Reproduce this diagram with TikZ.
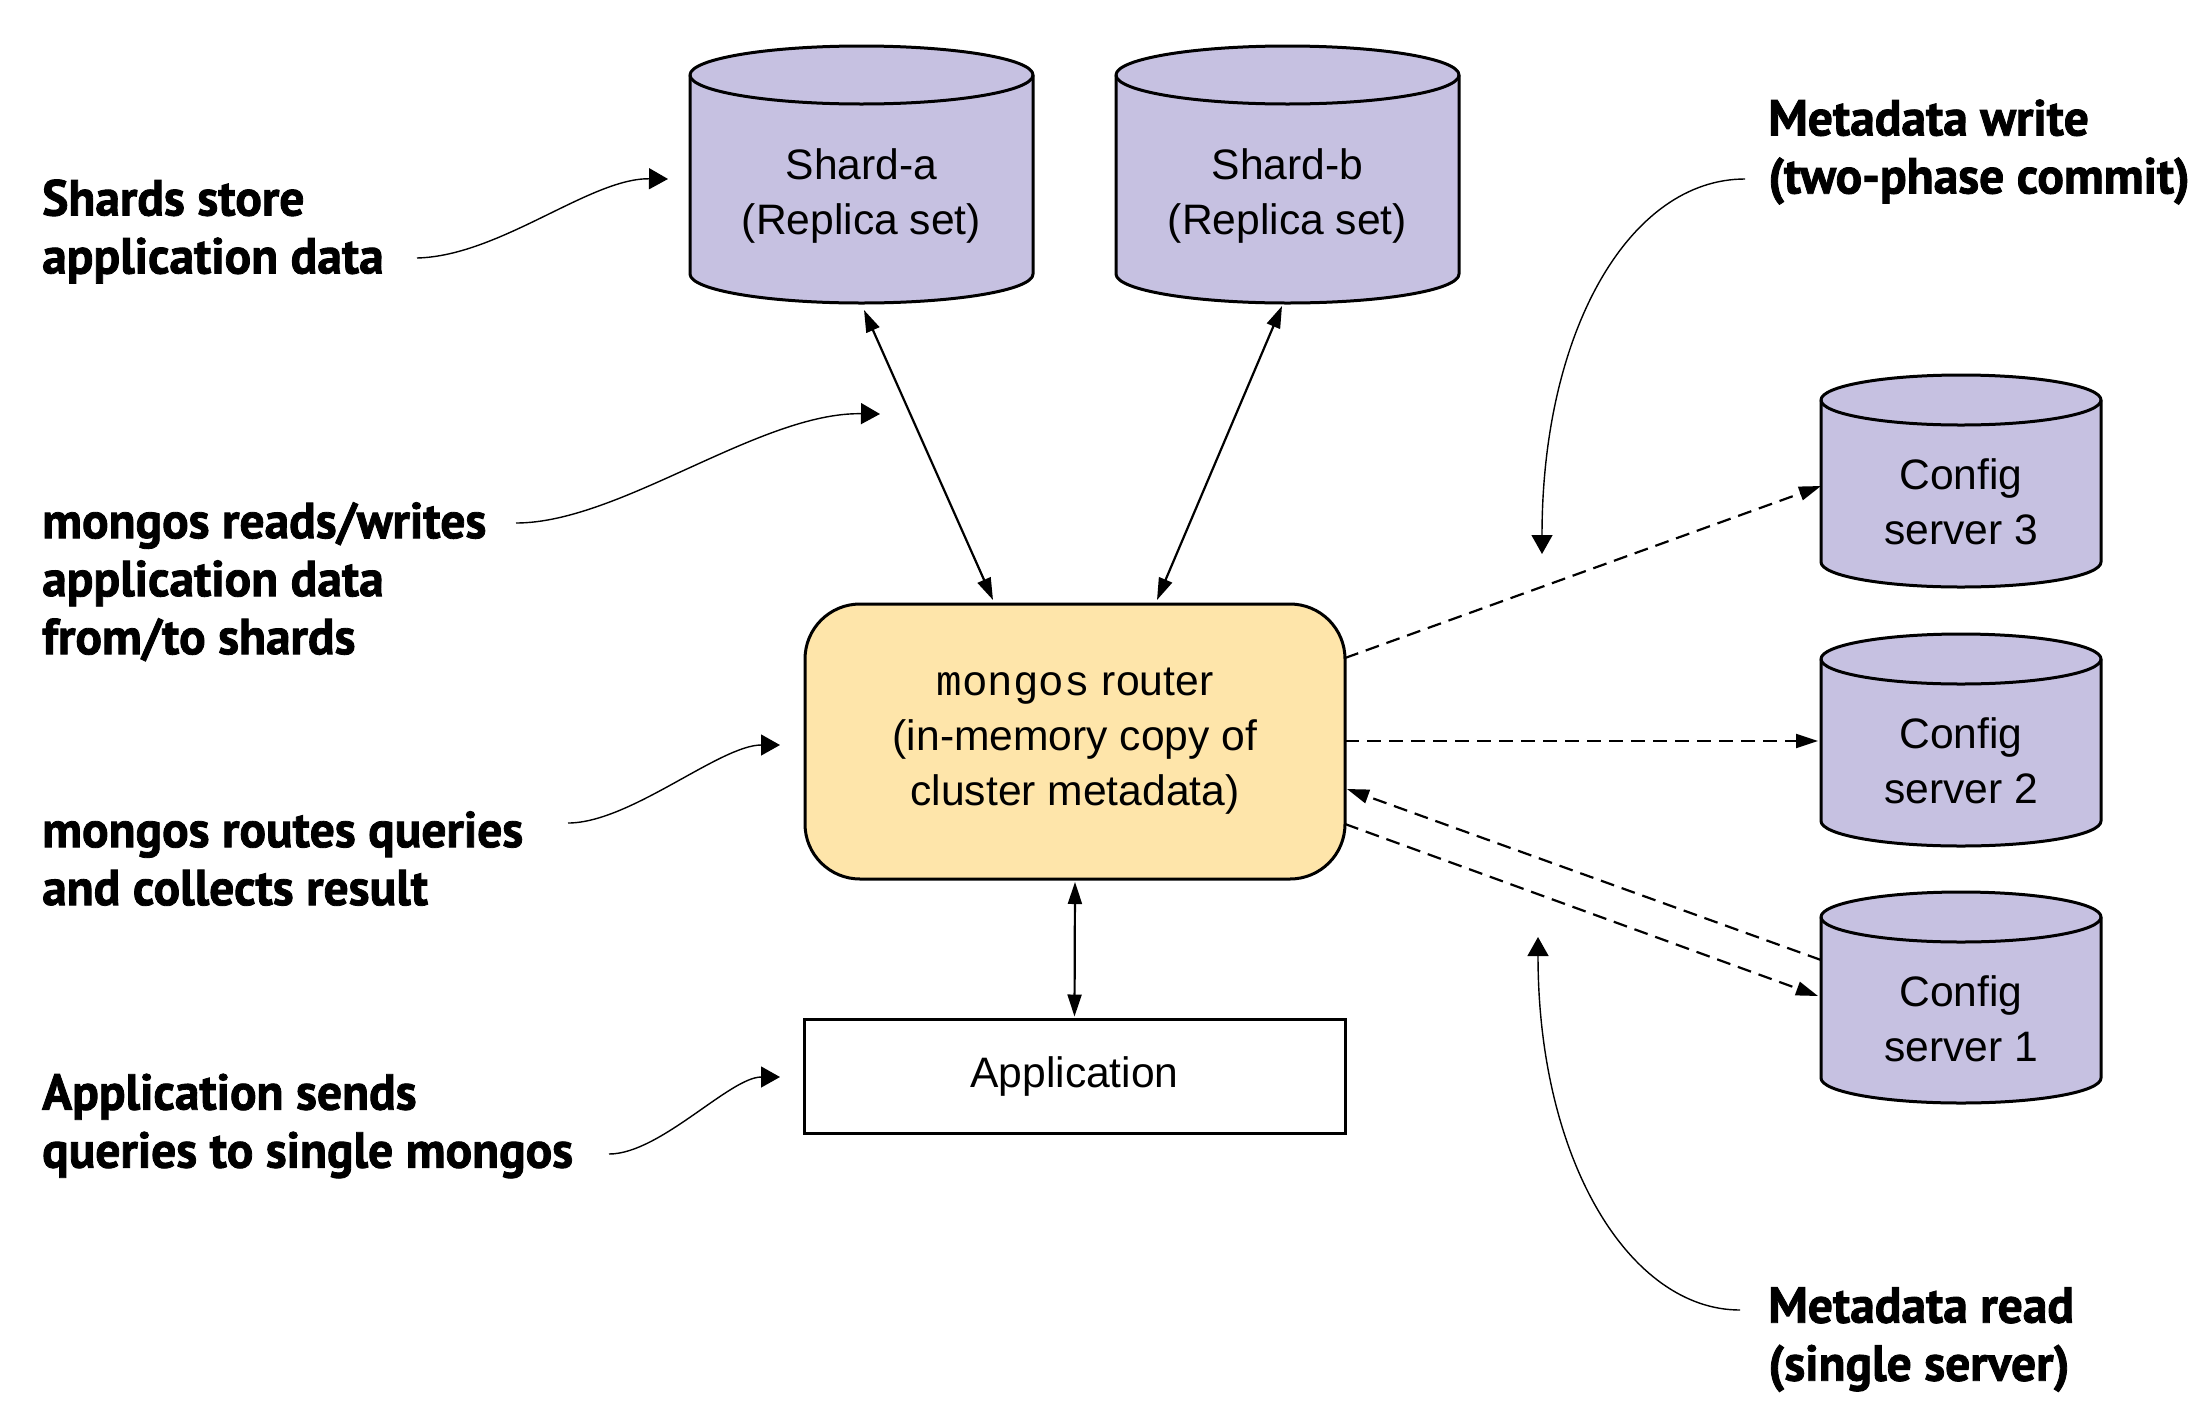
\documentclass[tikz,border=0pt]{standalone}
\usepackage{fontspec}
\setmainfont{Liberation Sans}
\setmonofont{Liberation Mono}
\newfontfamily\annfont[FakeBold=1.6,FakeStretch=0.98]{PT Sans}
\usetikzlibrary{arrows.meta,calc}
\definecolor{cylfill}{RGB}{198,193,225}
\definecolor{routerfill}{RGB}{254,229,170}
\newcommand\dbcyl[7]{%
  \fill[cylfill] ({#2-#5},{-#3-#6}) -- ({#2-#5},{-#4+#6}) arc[start angle=180,end angle=360,x radius=#5,y radius=#6] -- ({#2+#5},{-#3-#6}) arc[start angle=0,end angle=180,x radius=#5,y radius=#6] -- cycle;
  \draw[cylline] ({#2-#5},{-#3-#6}) -- ({#2-#5},{-#4+#6}) arc[start angle=180,end angle=360,x radius=#5,y radius=#6] -- ({#2+#5},{-#3-#6}) arc[start angle=0,end angle=180,x radius=#5,y radius=#6] -- cycle;
  \draw[cylline] ({#2-#5},{-#3-#6}) arc[start angle=180,end angle=360,x radius=#5,y radius=#6];
  \node[draw=none,inner sep=0pt,outer sep=0pt,minimum width=2*#5pt,minimum height=(#4-#3)*1pt] (#1) at (#2,{-(#3+#4)/2}) {};
  \node[nodetext] (#1-text) at ($(#1.center)+(0,-21)$) {#7};
}
\begin{document}
\begin{tikzpicture}[x=1pt,y=1pt,
  cylline/.style={draw=black,line width=3pt,line join=round},
  nodetext/.style={font=\fontsize{42.6}{55}\selectfont,align=center,inner sep=0pt},
  tipc/.tip={Triangle[length=22pt,width=14pt]},
  conn/.style={line width=2.2pt,tipc-tipc},
  dconn/.style={line width=2.2pt,dash pattern=on 14pt off 8pt,-tipc},
  ann/.style={line width=1.4pt,-{Triangle[length=19pt,width=21pt]}},
  anntext/.style={font={\annfont\bfseries\fontsize{50.5}{58}\selectfont},align=left,anchor=west,inner sep=0pt},
  boxline/.style={draw=black,line width=3pt,outer sep=0pt}]
\useasboundingbox (0,0) rectangle (2209,-1414);

% cylinders
\dbcyl{shardA}{861.5}{46}{303}{171.5}{29}{Shard-a\\(Replica set)}
\dbcyl{shardB}{1287.5}{46}{303}{171.5}{29}{Shard-b\\(Replica set)}
\dbcyl{cfgC}{1961}{375}{587}{140}{25}{Config\\server 3}
\dbcyl{cfgB}{1961}{634}{846}{140}{25}{Config\\server 2}
\dbcyl{cfgA}{1961}{892}{1103}{140}{25}{Config\\server 1}

% router and application
\node[boxline,fill=routerfill,rounded corners=55pt,minimum width=540pt,minimum height=275pt,nodetext] (router) at (1075,-741.5) {\texttt{mongos} router\\(in-memory copy of\\cluster metadata)};
\node[boxline,minimum width=541pt,minimum height=114pt,nodetext] (app) at (1074.5,-1076.5) {Application};

% solid connectors
\draw[conn] ([xshift=2.5pt,yshift=-7pt]shardA.south) -- ([xshift=-82pt,yshift=4pt]router.north);
\draw[conn] ([xshift=-5.5pt,yshift=-3pt]shardB.south) -- ([xshift=82pt,yshift=4pt]router.north);
\draw[conn] ([yshift=-3pt]router.south) -- ([yshift=3pt]app.north);

% dashed connectors
\draw[dconn] ([yshift=83.5pt]router.east) -- ([yshift=-5pt]cfgC.west);
\draw[dconn] ([yshift=0.5pt]router.east) -- ([xshift=-3pt,yshift=-1pt]cfgB.west);
\draw[dconn] ([yshift=37.5pt]cfgA.west) -- ([xshift=2pt,yshift=-47.5pt]router.east);
\draw[dconn] ([yshift=-82.5pt]router.east) -- ([xshift=-3pt,yshift=1.5pt]cfgA.west);

% annotations
\node[anntext] (t1) at (42,-231.5) {Shards store\\application data};
\node[anntext] (t2) at (42,-581.7) {mongos reads/writes\\application data\\from/to shards};
\node[anntext] (t3) at (42,-858.5) {mongos routes queries\\and collects result};
\node[anntext] (t4) at (42,-1126) {Application sends\\queries to single mongos};
\node[anntext] (t5) at (1768,-152) {Metadata write\\(two-phase commit)};
\node[anntext] (t6) at (1768,-1339.6) {Metadata read\\(single server)};

\coordinate (s1) at (417,-258);  \coordinate (e1) at (668,-179);
\coordinate (s2) at (516,-523);  \coordinate (e2) at (880,-414);
\coordinate (s3) at (568,-823);  \coordinate (e3) at (780,-745);
\coordinate (s4) at (609,-1154); \coordinate (e4) at (780,-1077);
\coordinate (s5) at (1745,-179); \coordinate (e5) at (1542,-554);
\coordinate (s6) at (1740,-1310); \coordinate (e6) at (1538,-937);

\draw[ann] (s1) .. controls (500,-256) and (590,-178) .. (e1);
\draw[ann] (s2) .. controls (620,-523) and (760,-412) .. (e2);
\draw[ann] (s3) .. controls (630,-823) and (720,-745) .. (e3);
\draw[ann] (s4) .. controls (660,-1154) and (730,-1077) .. (e4);
\draw[ann] (s5) .. controls (1630,-179) and (1542,-330) .. (e5);
\draw[ann] (s6) .. controls (1630,-1310) and (1538,-1161) .. (e6);
\end{tikzpicture}
\end{document}
